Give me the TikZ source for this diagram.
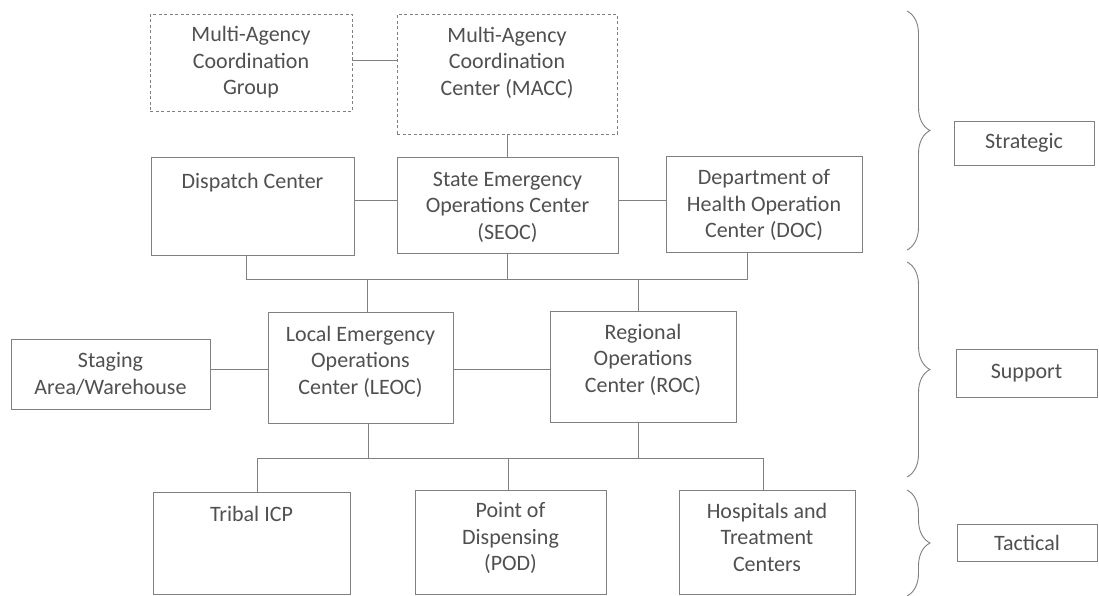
\documentclass[tikz,border=0pt]{standalone}
\usepackage{fontspec}
\setmainfont{Carlito}
\usetikzlibrary{decorations.pathreplacing}
\definecolor{ln}{HTML}{808080}
\definecolor{tx}{HTML}{505050}
\begin{document}
\begin{tikzpicture}[x=1pt,y=-1pt,
  box/.style={draw=ln, line width=0.9pt, rectangle, inner sep=0pt},
  dbox/.style={box, dash pattern=on 3pt off 2.5pt},
  txt/.style={text=tx, align=center, inner sep=0pt, font=\fontsize{22}{26.5}\selectfont},
  con/.style={draw=ln, line width=0.9pt},
  brc/.style={draw=ln, line width=0.9pt, decorate, decoration={brace, amplitude=23pt}}]
\useasboundingbox (0,0) rectangle (1099,595);
\clip (0,0) rectangle (1099,595);
\fill[white] (0,0) rectangle (1099,595);

% boxes
\node[dbox, minimum width=202pt, minimum height=97pt] (macg) at (251,62.5) {};
\node[dbox, minimum width=220pt, minimum height=120pt] (macc) at (507,74) {};
\node[box, minimum width=203pt, minimum height=98pt] (disp) at (252.5,206) {};
\node[box, minimum width=221pt, minimum height=96pt] (seoc) at (507.5,205) {};
\node[box, minimum width=196pt, minimum height=96pt] (doc) at (764,204) {};
\node[box, minimum width=199pt, minimum height=70pt] (stag) at (110.5,374) {};
\node[box, minimum width=185pt, minimum height=111pt] (leoc) at (360.5,367.5) {};
\node[box, minimum width=186pt, minimum height=111pt] (roc) at (643,366.5) {};
\node[box, minimum width=197pt, minimum height=102pt] (trib) at (251.5,543) {};
\node[box, minimum width=191pt, minimum height=104pt] (pod) at (510.5,542) {};
\node[box, minimum width=176pt, minimum height=104pt] (hosp) at (767,542) {};
\node[box, minimum width=140pt, minimum height=44pt] (strat) at (1024,143) {};
\node[box, minimum width=141pt, minimum height=48pt] (supp) at (1026.5,373) {};
\node[box, minimum width=140pt, minimum height=37pt] (tact) at (1027,542.5) {};

% texts
\node[txt] (macgT) at (macg.center) {Multi-Agency\\Coordination\\Group};
\node[txt, anchor=north] (maccT) at ([yshift=-13pt]macc.north) {Multi-Agency\\Coordination\\Center (MACC)};
\node[txt, anchor=north] (dispT) at ([yshift=-16pt]disp.north) {Dispatch Center};
\node[txt, anchor=north] (seocT) at ([yshift=-15pt]seoc.north) {State Emergency\\Operations Center\\(SEOC)};
\node[txt, anchor=north] (docT) at ([yshift=-14pt]doc.north) {Department of\\Health Operation\\Center (DOC)};
\node[txt] (stagT) at (stag.center) {Staging\\Area/Warehouse};
\node[txt, anchor=north] (leocT) at ([yshift=-14pt]leoc.north) {Local Emergency\\Operations\\Center (LEOC)};
\node[txt, anchor=north] (rocT) at ([yshift=-13pt]roc.north) {Regional\\Operations\\Center (ROC)};
\node[txt, anchor=north] (tribT) at ([yshift=-14pt]trib.north) {Tribal ICP};
\node[txt, anchor=north] (podT) at ([yshift=-13pt]pod.north) {Point of\\Dispensing\\(POD)};
\node[txt, anchor=north] (hospT) at ([yshift=-13pt]hosp.north) {Hospitals and\\Treatment\\Centers};
\node[txt] (stratT) at (strat.center) {Strategic};
\node[txt] (suppT) at (supp.center) {Support};
\node[txt] (tactT) at (tact.center) {Tactical};

% connectors, top tier
\draw[con] ([yshift=2.5pt]macg.east) -- ([yshift=2.5pt]macg.east -| macc.west);
\draw[con] (macc.south) -- (macc.south |- seoc.north);
\draw[con] ([yshift=6pt]disp.east) -- ([yshift=6pt]disp.east -| seoc.west);
\draw[con] ([yshift=5pt]seoc.east) -- ([yshift=5pt]seoc.east -| doc.west);

% upper bus
\coordinate (b1) at (246,279);
\coordinate (b2) at (747,279);
\coordinate (b3) at (367,279);
\coordinate (b4) at (638,279);
\draw[con] (b1 |- disp.south) -- (b1) -- (b2) -- (b2 |- doc.south);
\draw[con] (seoc.south) -- (seoc.south |- b1);
\draw[con] (b3) -- (b3 |- leoc.north);
\draw[con] (b4) -- (b4 |- roc.north);

% middle tier
\coordinate (r1) at (0,369);
\draw[con] (stag.east |- r1) -- (leoc.west |- r1);
\draw[con] (leoc.east |- r1) -- (roc.west |- r1);

% lower bus
\coordinate (c1) at (257,458);
\coordinate (c2) at (763,458);
\coordinate (c3) at (368,458);
\coordinate (c4) at (638,458);
\coordinate (c5) at (508,458);
\draw[con] (c1 |- trib.north) -- (c1) -- (c2) -- (c2 |- hosp.north);
\draw[con] (c3 |- leoc.south) -- (c3);
\draw[con] (c4 |- roc.south) -- (c4);
\draw[con] (c5) -- (c5 |- pod.north);

% braces
\coordinate (s1) at (907,11);
\coordinate (s2) at (907,250);
\coordinate (p1) at (907,262);
\coordinate (p2) at (907,477);
\coordinate (t1) at (907,490);
\coordinate (t2) at (907,596);
\draw[brc] (s1) -- (s2);
\draw[brc] (p1) -- (p2);
\draw[brc] (t1) -- (t2);
\end{tikzpicture}
\end{document}
